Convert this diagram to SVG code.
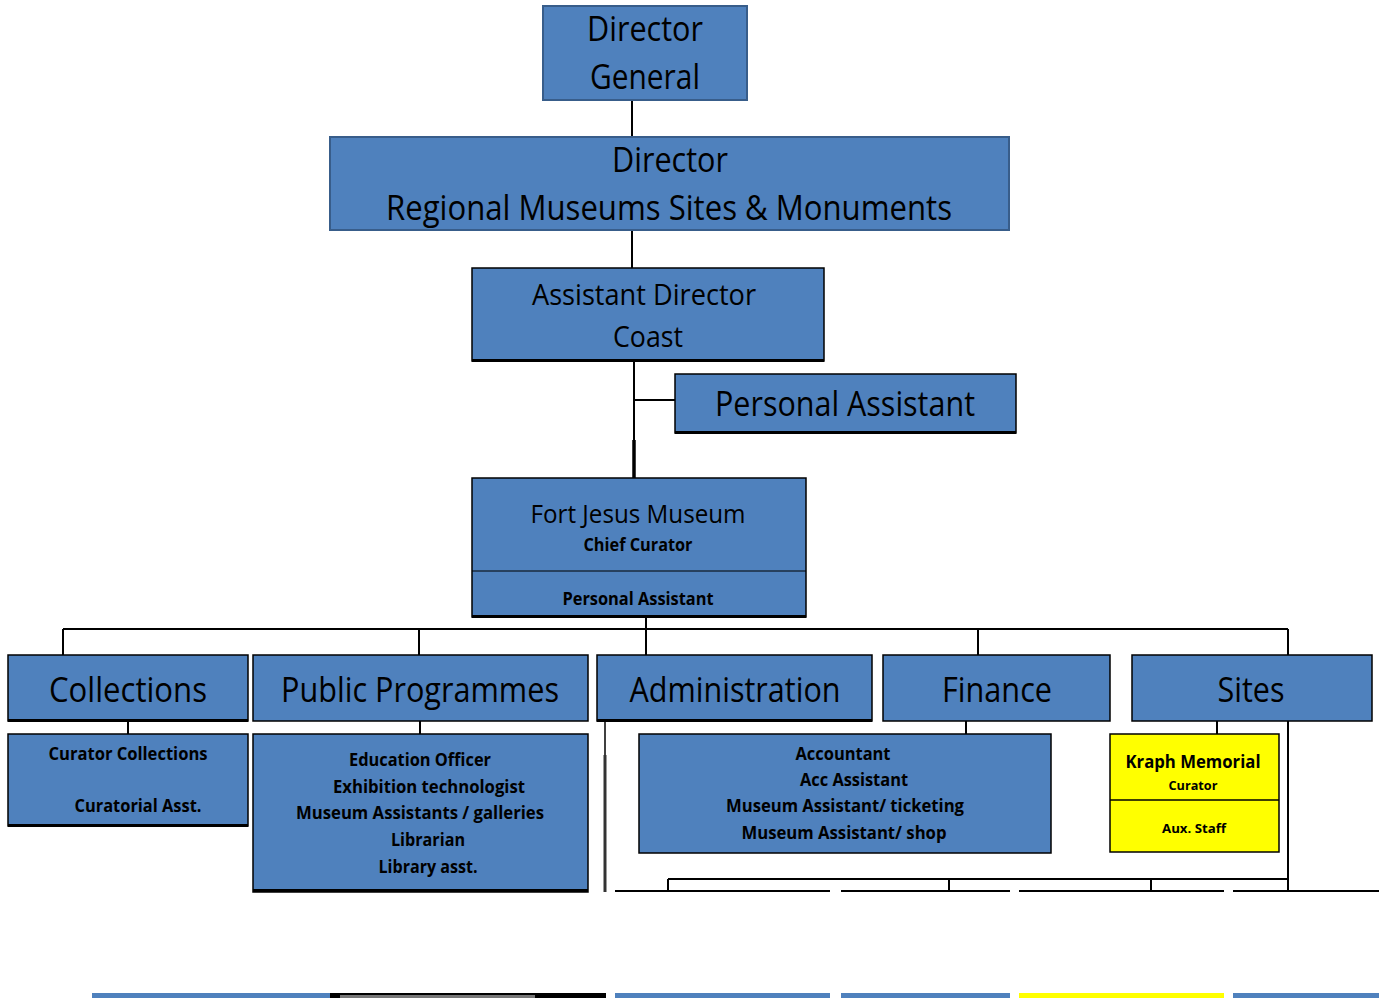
<svg xmlns="http://www.w3.org/2000/svg" width="1385" height="998" viewBox="0 0 1385 998">
<style>
.b{fill:#4F81BD;stroke:#000;stroke-width:1.5}
.bd{fill:#4F81BD;stroke:#385D8A;stroke-width:2}
.y{fill:#FFFF00;stroke:#000;stroke-width:1.5}
.sh{fill:#000}
text{font-family:"Open Sans","Liberation Sans",sans-serif;fill:#000;text-anchor:middle}
.L{font-size:34px}
.M{font-size:30px}
.S{font-size:18px;font-weight:bold}
.T{font-size:13px;font-weight:bold}
.c{stroke:#000;stroke-width:2;fill:none}
</style>
<rect width="1385" height="998" fill="#fff"/>
<g id="connectors">
<path class="c" d="M632 100V137M632 230V268M634 361V478M634 400H675"/>
<path d="M634 440V478" stroke="#000" stroke-width="3.5"/>
<path class="c" d="M646 617V629M63 629H1288M63 629V655M419 629V655M646 629V655M978 629V655M1288 629V655"/>
<path class="c" d="M128 721V734M420 721V734M966 721V734M1217 721V734"/>
<path d="M605 721V755" stroke="#000" stroke-width="1.5"/>
<path d="M605 755V892" stroke="#333" stroke-width="3"/>
<path class="c" d="M1288 721V891M668 879H1288M668 879V891M949 879V891M1151 879V891"/>
<path class="c" d="M615 891H830M841 891H1010M1019 891H1224M1233 891H1379"/>
</g>
<g id="director-general">
<rect class="bd" x="543" y="6" width="204" height="94"/>
<text class="L" x="645" y="41" textLength="116" lengthAdjust="spacingAndGlyphs">Director</text>
<text class="L" x="645" y="89" textLength="110" lengthAdjust="spacingAndGlyphs">General</text>
</g>
<g id="director">
<rect class="bd" x="330" y="137" width="679" height="93"/>
<text class="L" x="670" y="172" textLength="116" lengthAdjust="spacingAndGlyphs">Director</text>
<text class="L" x="669" y="220" textLength="566" lengthAdjust="spacingAndGlyphs">Regional Museums Sites &amp; Monuments</text>
</g>
<g id="assistant-director">
<rect class="b" x="472" y="268" width="352" height="93"/>
<rect class="sh" x="472" y="359" width="352" height="3"/>
<text class="M" x="644" y="305" textLength="224" lengthAdjust="spacingAndGlyphs">Assistant Director</text>
<text class="M" x="648" y="347" textLength="70" lengthAdjust="spacingAndGlyphs">Coast</text>
</g>
<g id="personal-assistant">
<rect class="b" x="675" y="374" width="341" height="59"/>
<rect class="sh" x="675" y="431" width="341" height="3"/>
<text class="L" x="845" y="416" textLength="260" lengthAdjust="spacingAndGlyphs">Personal Assistant</text>
</g>
<g id="fort-jesus">
<rect class="b" x="472" y="478" width="334" height="139"/>
<rect class="sh" x="472" y="615" width="334" height="3"/>
<path d="M472 571H806" stroke="#000" stroke-width="1"/>
<text x="638" y="523" style="font-size:26px" textLength="215" lengthAdjust="spacingAndGlyphs">Fort Jesus Museum</text>
<text class="S" x="638" y="551" textLength="109" lengthAdjust="spacingAndGlyphs">Chief Curator</text>
<text class="S" x="638" y="605" textLength="151" lengthAdjust="spacingAndGlyphs">Personal Assistant</text>
</g>
<g id="collections">
<rect class="b" x="8" y="655" width="240" height="66"/>
<rect class="sh" x="8" y="719" width="240" height="3"/>
<text class="L" x="128" y="702" textLength="158" lengthAdjust="spacingAndGlyphs">Collections</text>
</g>
<g id="public-programmes">
<rect class="b" x="253" y="655" width="335" height="66"/>
<text class="L" x="420" y="702" textLength="278" lengthAdjust="spacingAndGlyphs">Public Programmes</text>
</g>
<g id="administration">
<rect class="b" x="597" y="655" width="275" height="66"/>
<rect class="sh" x="597" y="719" width="275" height="3"/>
<text class="L" x="735" y="702" textLength="211" lengthAdjust="spacingAndGlyphs">Administration</text>
</g>
<g id="finance">
<rect class="b" x="883" y="655" width="227" height="66"/>
<text class="L" x="997" y="702" textLength="110" lengthAdjust="spacingAndGlyphs">Finance</text>
</g>
<g id="sites">
<rect class="b" x="1132" y="655" width="240" height="66"/>
<text class="L" x="1251" y="702" textLength="67" lengthAdjust="spacingAndGlyphs">Sites</text>
</g>
<g id="collections-staff">
<rect class="b" x="8" y="734" width="240" height="92"/>
<rect class="sh" x="8" y="824" width="240" height="3"/>
<text class="S" x="128" y="760" textLength="159" lengthAdjust="spacingAndGlyphs">Curator Collections</text>
<text class="S" x="138" y="812" textLength="127" lengthAdjust="spacingAndGlyphs">Curatorial Asst.</text>
</g>
<g id="programmes-staff">
<rect class="b" x="253" y="734" width="335" height="158"/>
<rect class="sh" x="253" y="889" width="335" height="3"/>
<text class="S" x="420" y="766" textLength="142" lengthAdjust="spacingAndGlyphs">Education Officer</text>
<text class="S" x="429" y="793" textLength="192" lengthAdjust="spacingAndGlyphs">Exhibition technologist</text>
<text class="S" x="420" y="819" textLength="248" lengthAdjust="spacingAndGlyphs">Museum Assistants / galleries</text>
<text class="S" x="428" y="846" textLength="74" lengthAdjust="spacingAndGlyphs">Librarian</text>
<text class="S" x="428" y="873" textLength="99" lengthAdjust="spacingAndGlyphs">Library asst.</text>
</g>
<g id="finance-staff">
<rect class="b" x="639" y="734" width="412" height="119"/>
<text class="S" x="843" y="760" textLength="95" lengthAdjust="spacingAndGlyphs">Accountant</text>
<text class="S" x="854" y="786" textLength="108" lengthAdjust="spacingAndGlyphs">Acc Assistant</text>
<text class="S" x="845" y="812" textLength="238" lengthAdjust="spacingAndGlyphs">Museum Assistant/ ticketing</text>
<text class="S" x="844" y="839" textLength="205" lengthAdjust="spacingAndGlyphs">Museum Assistant/ shop</text>
</g>
<g id="kraph-memorial">
<rect class="y" x="1110" y="734" width="169" height="118"/>
<path d="M1110 800H1279" stroke="#000" stroke-width="1.5"/>
<text class="S" x="1193" y="768" textLength="135" lengthAdjust="spacingAndGlyphs">Kraph Memorial</text>
<text class="T" x="1193" y="790" textLength="49" lengthAdjust="spacingAndGlyphs">Curator</text>
<text class="T" x="1194" y="833" textLength="64" lengthAdjust="spacingAndGlyphs">Aux. Staff</text>
</g>
<g id="bottom-row">
<rect x="92" y="993" width="238" height="5" fill="#4F81BD"/>
<rect x="330" y="993" width="276" height="5" fill="#000"/>
<rect x="340" y="995" width="195" height="3" fill="#777"/>
<rect x="615" y="993" width="215" height="5" fill="#4F81BD"/>
<rect x="841" y="993" width="169" height="5" fill="#4F81BD"/>
<rect x="1019" y="993" width="205" height="5" fill="#FFFF00"/>
<rect x="1233" y="993" width="146" height="5" fill="#4F81BD"/>
</g>
</svg>
